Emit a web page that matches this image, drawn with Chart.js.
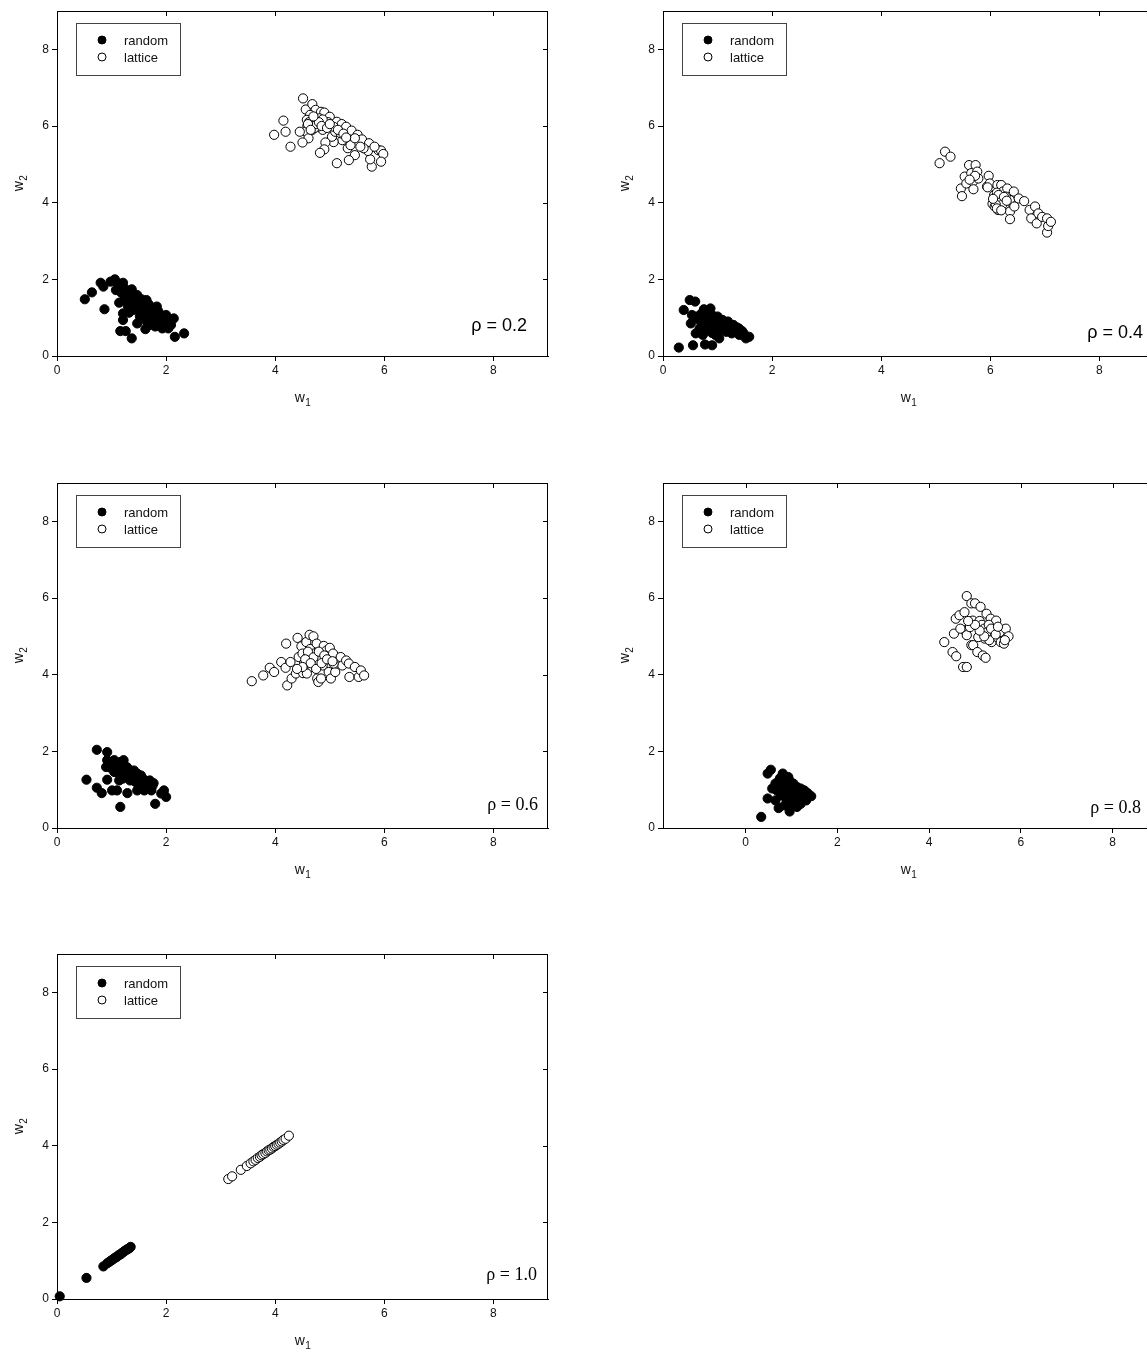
<!DOCTYPE html>
<html>
<head>
<meta charset="utf-8">
<script src="https://cdn.jsdelivr.net/npm/chart.js@4.4.0/dist/chart.umd.min.js"></script>
<style>
  body { margin: 0; background: #fff; width: 1147px; height: 1354px; overflow: hidden; position: relative; }
  .panel { position: absolute; }
</style>
</head>
<body>
<div class="panel" style="left:0px;top:0px"><canvas id="c1" width="560" height="410"></canvas></div>
<div class="panel" style="left:606px;top:0px"><canvas id="c2" width="560" height="410"></canvas></div>
<div class="panel" style="left:0px;top:472px"><canvas id="c3" width="560" height="410"></canvas></div>
<div class="panel" style="left:606px;top:472px"><canvas id="c4" width="560" height="410"></canvas></div>
<div class="panel" style="left:0px;top:943px"><canvas id="c5" width="560" height="410"></canvas></div>
<script>
// tick labels and names
const xTicks = [0, 2, 4, 6, 8];
const yTicks = [0, 2, 4, 6, 8];
const seriesNames = ['random', 'lattice'];
const rhoLabels = ['ρ = 0.2', 'ρ = 0.4', 'ρ = 0.6', 'ρ = 0.8', 'ρ = 1.0'];
const xTitle = ['w', '1'];
const yTitle = ['w', '2'];

// rho = 0.2
const random02 = [[0.51,1.48],[0.64,1.66],[0.80,1.91],[0.85,1.81],[0.87,1.22],[1.06,2.0],[0.98,1.94],[1.11,1.90],
  [1.21,1.91],[1.08,1.72],[1.18,1.65],[1.14,1.39],[1.24,1.55],[1.37,1.74],[1.31,1.59],[1.47,1.59],[1.50,1.46],
  [1.57,1.37],[1.64,1.46],[1.44,1.29],[1.21,1.11],[1.32,1.13],[1.21,0.94],[1.16,0.65],[1.26,0.65],[1.37,0.46],
  [1.47,0.85],[1.62,0.70],[1.64,0.90],[1.70,1.11],[1.77,1.24],[1.83,1.29],[1.86,1.16],[1.90,1.03],[1.80,0.77],
  [1.75,0.94],[1.93,0.72],[2.03,0.87],[2.09,0.81],[2.14,0.98],[2.16,0.50],[2.33,0.59],[2.0,1.07],[1.54,1.16],
  [1.41,1.50],[1.28,1.42],[1.57,1.24],[1.67,1.33],[1.95,0.90],[2.04,0.72],[1.70,0.81],[1.52,1.03],
  [1.15,1.80],[1.25,1.75],[1.30,1.68],[1.40,1.62],[1.45,1.52],[1.55,1.48],[1.60,1.40],[1.68,1.35],[1.72,1.28],
  [1.80,1.20],[1.85,1.10],[1.92,1.05],[1.98,0.98],[2.05,0.95],[1.35,1.45],[1.45,1.38],[1.60,1.25],[1.70,1.15],
  [1.80,1.00],[1.88,0.88],[1.50,1.30],[1.62,1.10],[1.30,1.30],[1.40,1.20]];
const lattice02 = [[4.51,6.72],[4.56,6.43],[4.68,6.57],[4.74,6.42],[4.84,6.37],[4.90,6.35],[4.64,6.29],[4.58,6.16],
  [4.71,6.16],[4.81,6.20],[5.00,6.24],[5.13,6.11],[5.22,6.05],[5.30,5.98],[5.40,5.88],[5.51,5.77],[5.59,5.65],
  [5.72,5.55],[5.89,5.37],[5.94,5.36],[5.98,5.27],[5.94,5.07],[5.77,4.94],[5.74,5.13],[5.70,5.35],[5.62,5.42],
  [5.46,5.24],[5.35,5.11],[5.33,5.42],[5.38,5.50],[5.23,5.63],[5.13,5.03],[5.07,5.58],[5.04,5.72],[5.10,5.85],
  [4.92,5.57],[4.90,5.39],[4.82,5.30],[4.87,5.90],[4.78,5.98],[4.68,5.90],[4.59,6.0],[4.56,5.85],[4.61,5.68],
  [4.50,5.57],[4.45,5.85],[4.15,6.14],[4.19,5.85],[3.98,5.77],[4.28,5.46],[5.20,5.81],[5.46,5.68],[5.56,5.46],
  [4.97,6.10],[4.87,6.17],[5.07,5.98],[5.82,5.46],
  [4.62,6.10],[4.66,6.00],[4.72,5.95],[4.76,6.05],[4.80,6.10],[4.70,6.25],[4.60,6.05],[4.85,6.00],[4.95,5.95],
  [5.00,6.05],[5.15,5.90],[5.25,5.80],[5.30,5.70],[4.65,5.90]];

// rho = 0.4
const random04 = [[0.29,0.22],[0.55,0.28],[0.77,0.30],[0.90,0.28],[0.38,1.20],[0.49,1.46],[0.59,1.42],[0.53,1.07],
  [0.51,0.85],[0.60,1.03],[0.75,1.22],[0.87,1.24],[0.70,0.90],[0.80,0.98],[0.90,1.07],[1.0,1.03],[1.09,0.94],
  [1.19,0.90],[1.29,0.81],[1.39,0.72],[1.48,0.59],[1.58,0.50],[1.52,0.46],[0.83,0.68],[0.96,0.55],[1.03,0.46],
  [0.73,0.55],[0.93,0.81],[1.06,0.72],[1.16,0.63],[1.26,0.59],[1.32,0.68],[1.13,0.81],[1.03,0.90],[1.22,0.77],
  [1.42,0.63],[0.67,0.72],[0.60,0.59],[0.93,0.94],
  [0.70,1.10],[0.80,1.10],[0.95,1.00],[1.05,0.95],[1.15,0.88],[1.25,0.80],[1.35,0.75],[1.45,0.65],[0.85,0.85],
  [0.95,0.78],[1.10,0.70],[1.20,0.68],[1.30,0.65],[0.75,0.80],[0.65,0.95],[1.00,0.65],[0.90,0.60],[1.40,0.55]];
const lattice04 = [[5.07,5.03],[5.17,5.33],[5.27,5.20],[5.46,4.37],[5.48,4.17],[5.53,4.68],[5.56,4.50],[5.61,4.98],
  [5.65,4.77],[5.68,4.55],[5.69,4.35],[5.73,4.98],[5.76,4.81],[5.78,4.63],[5.97,4.70],[5.94,4.42],[5.99,4.50],
  [6.07,4.20],[6.04,3.97],[6.10,4.07],[6.13,4.46],[6.20,4.46],[6.14,3.81],[6.23,4.29],[6.20,4.11],[6.26,3.90],
  [6.31,4.37],[6.36,4.07],[6.36,3.77],[6.36,3.57],[6.43,4.29],[6.44,3.90],[6.52,4.11],[6.62,4.04],[6.72,3.81],
  [6.75,3.59],[6.82,3.90],[6.85,3.46],[6.88,3.72],[6.95,3.63],[7.04,3.59],[7.04,3.22],[7.06,3.39],[7.11,3.50],
  [6.12,4.26],[6.16,4.07],[6.28,4.16],[6.08,3.90],
  [6.15,4.20],[6.18,4.00],[6.22,3.95],[6.10,3.95],[6.25,4.15],[6.30,4.05],[6.12,3.85],[6.20,3.80],[6.05,4.10],
  [5.95,4.40],[5.72,4.70],[5.62,4.60]];

// rho = 0.6
const random06 = [[0.54,1.26],[0.73,2.04],[0.92,1.98],[0.73,1.05],[0.82,0.91],[0.92,1.26],[0.92,1.77],[0.90,1.59],
  [0.99,1.68],[1.05,1.77],[1.16,1.72],[1.22,1.77],[1.01,0.98],[1.10,0.98],[1.16,0.55],[1.29,0.91],[1.05,1.46],
  [1.18,1.55],[1.28,1.59],[1.31,1.46],[1.41,1.50],[1.47,1.42],[1.54,1.37],[1.57,1.29],[1.64,1.20],[1.70,1.24],
  [1.77,1.17],[1.60,0.98],[1.67,1.07],[1.21,1.29],[1.34,1.24],[1.44,1.20],[1.47,0.98],[1.54,1.11],[1.80,0.63],
  [1.96,0.98],[1.91,0.90],[2.00,0.81],[1.73,0.98],[1.14,1.24],
  [1.10,1.60],[1.20,1.65],[1.30,1.55],[1.35,1.40],[1.45,1.35],[1.50,1.30],[1.60,1.25],[1.65,1.15],[1.75,1.10],
  [1.25,1.40],[1.40,1.30],[1.55,1.20],[1.70,1.05],[1.50,1.05],[1.60,1.00],[1.00,1.55],[1.10,1.45]];
const lattice06 = [[3.57,3.83],[3.78,3.98],[3.90,4.18],[3.98,4.07],[4.11,4.33],[4.19,4.18],[4.20,4.81],[4.28,4.33],
  [4.22,3.72],[4.30,3.90],[4.38,4.03],[4.41,4.96],[4.43,4.46],[4.48,4.74],[4.50,4.55],[4.51,4.04],[4.53,4.30],
  [4.57,4.85],[4.59,4.46],[4.63,5.04],[4.64,4.67],[4.68,4.20],[4.70,5.00],[4.71,4.55],[4.74,4.37],[4.76,4.81],
  [4.77,3.90],[4.79,3.81],[4.83,4.46],[4.84,3.90],[4.87,4.24],[4.89,4.75],[4.94,4.63],[4.98,4.07],[5.0,4.70],
  [5.02,3.90],[5.06,4.55],[5.10,4.07],[5.13,4.29],[5.20,4.46],[5.23,4.24],[5.30,4.37],[5.35,4.29],[5.36,3.94],
  [5.46,4.20],[5.53,3.94],[5.57,4.11],[5.63,3.98],[4.58,4.03],[5.07,4.29],
  [4.60,4.60],[4.70,4.45],[4.80,4.60],[4.90,4.50],[4.55,4.40],[4.65,4.30],[4.75,4.15],[4.85,4.30],[4.95,4.40],
  [5.05,4.35],[4.50,4.20],[4.40,4.15]];

// rho = 0.8
const random08 = [[0.34,0.29],[0.48,1.42],[0.55,1.52],[0.48,0.77],[0.72,0.52],[0.58,1.03],[0.65,1.16],[0.73,1.24],
  [0.81,1.42],[0.85,1.29],[0.93,1.33],[0.96,1.20],[1.04,1.16],[1.12,1.07],[1.20,1.03],[1.28,0.98],[1.35,0.91],
  [1.43,0.83],[1.32,0.72],[1.20,0.63],[1.0,0.63],[0.96,0.43],[0.85,0.59],[0.77,0.85],[0.89,0.98],[1.0,0.90],
  [1.08,0.81],[1.15,0.85],[0.68,0.98],[0.81,1.11],[0.93,1.11],[1.04,0.98],[1.24,0.77],[0.89,0.75],[0.65,0.72],
  [1.12,0.55],
  [0.75,1.30],[0.85,1.20],[0.95,1.25],[1.05,1.10],[1.10,1.00],[1.20,0.95],[1.30,0.85],[0.90,1.05],[1.00,1.05],
  [0.80,1.00],[0.70,1.05],[0.95,0.85],[1.05,0.75],[1.15,0.70],[1.25,0.85],[0.85,0.90],[1.00,0.70],[1.10,0.90]];
const lattice08 = [[4.82,6.05],[4.33,4.85],[4.51,4.59],[4.59,4.48],[4.74,4.20],[4.82,4.20],[4.54,5.07],[4.58,5.46],
  [4.66,5.55],[4.77,5.63],[4.77,5.16],[4.82,5.03],[4.89,5.24],[4.92,4.77],[4.92,5.86],[4.95,5.41],[4.96,4.77],
  [5.0,5.86],[5.05,4.59],[5.12,5.77],[5.13,5.24],[5.17,4.50],[5.23,4.44],[5.25,5.59],[5.21,4.94],[5.26,5.28],
  [5.31,5.07],[5.34,5.46],[5.36,4.85],[5.40,5.20],[5.46,5.41],[5.48,4.98],[5.54,5.11],[5.56,4.85],[5.63,4.81],
  [5.67,5.20],[5.73,5.00],[5.65,4.90],[5.07,4.98],[5.17,5.11],[4.68,5.20],[5.31,4.90],
  [5.10,5.40],[5.15,5.30],[5.20,5.20],[5.25,5.10],[5.30,5.30],[5.35,5.20],[5.20,5.00],[5.10,5.15],[5.45,5.05],
  [5.50,5.25],[5.00,5.30],[4.85,5.40]];

// rho = 1.0
const random10 = [[0.05,0.07],[0.54,0.55],[0.85,0.85],[0.92,0.93],[0.96,0.97],[0.99,1.0],[1.02,1.03],[1.05,1.06],
  [1.07,1.08],[1.10,1.10],[1.12,1.13],[1.14,1.15],[1.17,1.17],[1.19,1.20],[1.21,1.22],[1.23,1.24],[1.25,1.26],
  [1.27,1.28],[1.29,1.30],[1.31,1.31],[1.33,1.33],[1.35,1.36]];
const lattice10 = [[3.14,3.13],[3.21,3.20],[3.37,3.37],[3.48,3.47],[3.55,3.54],[3.60,3.59],[3.64,3.63],[3.68,3.68],
  [3.72,3.71],[3.75,3.75],[3.78,3.78],[3.82,3.81],[3.85,3.85],[3.88,3.88],[3.91,3.90],[3.94,3.93],[3.97,3.97],
  [4.00,3.99],[4.03,4.02],[4.06,4.05],[4.09,4.08],[4.12,4.11],[4.15,4.15],[4.19,4.18],[4.25,4.26]];

const SANS = "'Liberation Sans', Arial, Helvetica, sans-serif";
const SERIF = "'Liberation Serif', 'Times New Roman', Times, serif";

// w with a lowered small index, centred on (cx, cy)
function drawSubLabel(ctx, parts, cx, cy) {
  ctx.font = '14px ' + SANS;
  const wb = ctx.measureText(parts[0]).width;
  ctx.font = '10px ' + SANS;
  const ws = ctx.measureText(parts[1]).width;
  const start = cx - (wb + ws) / 2;
  ctx.textAlign = 'left';
  ctx.textBaseline = 'alphabetic';
  ctx.fillStyle = '#111';
  ctx.font = '14px ' + SANS;
  ctx.fillText(parts[0], start, cy + 4);
  ctx.font = '10px ' + SANS;
  ctx.fillText(parts[1], start + wb + 0.5, cy + 8);
}

// frame on top/right with inward ticks, axis titles, boxed legend and the rho note
const decor = {
  id: 'decor',
  afterDraw(chart, args, opts) {
    const { ctx, chartArea: a } = chart;
    const x = chart.scales.x, y = chart.scales.y;
    ctx.save();
    ctx.strokeStyle = '#000';
    ctx.lineWidth = 1;
    ctx.beginPath();
    ctx.moveTo(a.left, a.top + 0.5);
    ctx.lineTo(a.right, a.top + 0.5);
    ctx.moveTo(a.right - 0.5, a.top);
    ctx.lineTo(a.right - 0.5, a.bottom);
    x.ticks.forEach(t => {
      const px = Math.round(x.getPixelForValue(t.value)) + 0.5;
      ctx.moveTo(px, a.top);
      ctx.lineTo(px, a.top + 5);
    });
    y.ticks.forEach(t => {
      const py = Math.round(y.getPixelForValue(t.value)) + 0.5;
      ctx.moveTo(a.right, py);
      ctx.lineTo(a.right - 5, py);
    });
    ctx.stroke();

    // axis titles
    drawSubLabel(ctx, xTitle, (a.left + a.right) / 2, a.bottom + 42);
    ctx.save();
    ctx.translate(19, (a.top + a.bottom) / 2);
    ctx.rotate(-Math.PI / 2);
    drawSubLabel(ctx, yTitle, 0, 0);
    ctx.restore();

    // legend
    const bx = Math.round(a.left + 19), by = Math.round(a.top + 12);
    ctx.strokeStyle = '#444';
    ctx.strokeRect(bx + 0.5, by + 0.5, 104, 52);
    ctx.font = '13px ' + SANS;
    ctx.textAlign = 'left';
    ctx.textBaseline = 'middle';
    chart.data.datasets.forEach((ds, i) => {
      const my = by + 17 + i * 17;
      ctx.beginPath();
      ctx.arc(bx + 26, my, 4, 0, Math.PI * 2);
      ctx.fillStyle = ds.backgroundColor;
      ctx.fill();
      ctx.strokeStyle = '#000';
      ctx.stroke();
      ctx.fillStyle = '#111';
      ctx.fillText(ds.label, bx + 48, my + 1);
    });

    // rho
    ctx.font = opts.rhoSize + 'px ' + opts.rhoFont;
    ctx.textAlign = 'right';
    ctx.textBaseline = 'middle';
    ctx.fillStyle = '#000';
    ctx.fillText(opts.rho, a.right - opts.rhoDx, a.bottom - opts.rhoDy);
    ctx.restore();
  }
};

function makePanel(id, randomPts, latticePts, rho, xMin, xMax, rhoFont, rhoDx, rhoDy) {
  const ctx = document.getElementById(id).getContext('2d');
  return new Chart(ctx, {
    type: 'scatter',
    data: {
      datasets: [
        {
          label: seriesNames[0],
          data: randomPts.map(p => ({ x: p[0], y: p[1] })),
          backgroundColor: '#000',
          borderColor: '#000',
          borderWidth: 1,
          pointRadius: 4.6,
          clip: false
        },
        {
          label: seriesNames[1],
          data: latticePts.map(p => ({ x: p[0], y: p[1] })),
          backgroundColor: '#fff',
          borderColor: '#000',
          borderWidth: 1,
          pointRadius: 4.6,
          clip: false
        }
      ]
    },
    options: {
      responsive: false,
      animation: false,
      devicePixelRatio: 1,
      events: [],
      layout: { padding: { top: 11, right: 12, left: 0, bottom: 0 } },
      plugins: {
        legend: { display: false },
        tooltip: { enabled: false },
        decor: { rho: rho, rhoFont: rhoFont, rhoSize: 18, rhoDx: rhoDx, rhoDy: rhoDy }
      },
      scales: {
        x: {
          type: 'linear',
          position: 'bottom',
          min: xMin,
          max: xMax,
          afterBuildTicks: s => { s.ticks = xTicks.map(v => ({ value: v })); },
          afterFit: s => { s.height = 54; },
          grid: { drawOnChartArea: false, drawTicks: true, tickLength: 5, color: '#000', lineWidth: 1 },
          border: { display: true, color: '#000', width: 1 },
          ticks: { color: '#111', padding: 2, maxRotation: 0, font: { family: SANS, size: 12 } },
          title: { display: false }
        },
        y: {
          type: 'linear',
          position: 'left',
          min: 0,
          max: 9,
          afterBuildTicks: s => { s.ticks = yTicks.map(v => ({ value: v })); },
          afterFit: s => { s.width = 57; },
          grid: { drawOnChartArea: false, drawTicks: true, tickLength: 5, color: '#000', lineWidth: 1 },
          border: { display: true, color: '#000', width: 1 },
          ticks: { color: '#111', padding: 3, font: { family: SANS, size: 12 } },
          title: { display: false }
        }
      }
    },
    plugins: [decor]
  });
}

makePanel('c1', random02, lattice02, rhoLabels[0], 0, 9, SANS, 21, 30);
makePanel('c2', random04, lattice04, rhoLabels[1], 0, 9, SANS, 11, 23);
makePanel('c3', random06, lattice06, rhoLabels[2], 0, 9, SERIF, 10, 23);
makePanel('c4', random08, lattice08, rhoLabels[3], -1.8, 8.9, SERIF, 13, 20);
makePanel('c5', random10, lattice10, rhoLabels[4], 0, 9, SERIF, 11, 24);
</script>
</body>
</html>
